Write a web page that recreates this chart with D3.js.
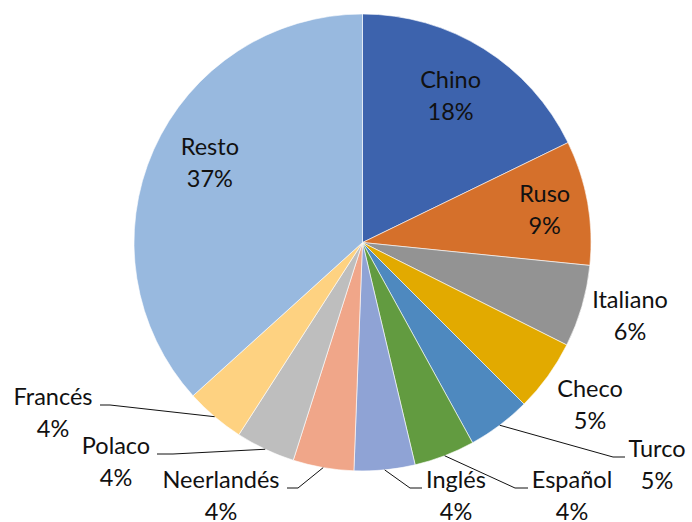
<!DOCTYPE html>
<html>
<head>
<meta charset="utf-8">
<script src="https://cdn.jsdelivr.net/npm/d3@7"></script>
<style>
  body { margin: 0; background: #fff; }
  svg text { font-family: Lato, "Open Sans", sans-serif; font-size: 23.5px; fill: #111; }
</style>
</head>
<body>
<svg width="692" height="522"></svg>
<script>
// Data (share in %)
var languages = ["Chino", "Ruso", "Italiano", "Checo", "Turco", "Español", "Inglés", "Neerlandés", "Polaco", "Francés", "Resto"];
var shares = [17.8, 8.8, 5.8, 5.1, 4.5, 4.3, 4.3, 4.3, 4.2, 4.2, 36.7];
var colors = ["#3D63AD", "#D5702B", "#939393", "#E2AA00", "#4E89BF", "#629B40", "#8FA3D5", "#F0A689", "#BEBEBE", "#FED281", "#98B9DF"];

// Label layout: inside labels sit on the slice mid-angle at r * radius (plus a nudge),
// outside labels get a centre and a leader elbow
var labelLayout = {
  "Chino": { r: 0.76, dx: -4, dy: 0 },
  "Ruso": { r: 0.81, dx: 0, dy: 0 },
  "Resto": { r: 0.75, dx: 4, dy: -10 },
  "Italiano": { x: 630, y: 300 },
  "Checo": { x: 590, y: 389 },
  "Turco": { x: 657, y: 449, elbow: [613, 625] },
  "Español": { x: 572, y: 480, elbow: [515, 528] },
  "Inglés": { x: 456, y: 480, elbow: [410, 422] },
  "Neerlandés": { x: 221, y: 480, elbow: [298, 287] },
  "Polaco": { x: 116, y: 446, elbow: [173, 157] },
  "Francés": { x: 53, y: 397, elbow: [110, 100] }
};

var svg = d3.select("svg");
var cx = 362.5, cy = 242.5, radius = 228.5;
var g = svg.append("g").attr("transform", `translate(${cx},${cy})`);

var data = languages.map((name, i) => ({ name: name, value: shares[i], color: colors[i] }));

var pie = d3.pie().sort(null).value((d) => d.value);
var arcs = pie(data);
var arc = d3.arc().innerRadius(0).outerRadius(radius);

g.selectAll("path.slice")
  .data(arcs)
  .join("path")
  .attr("class", "slice")
  .attr("d", arc)
  .attr("fill", (d) => d.data.color)
  .attr("stroke", "#fff")
  .attr("stroke-width", 0.6);

// Leader lines for small outside labels
arcs.forEach((d) => {
  var lay = labelLayout[d.data.name];
  if (!lay.elbow) return;
  var mid = (d.startAngle + d.endAngle) / 2;
  var px = cx + Math.sin(mid) * radius;
  var py = cy - Math.cos(mid) * radius;
  var ly = lay.y + 8;
  svg.append("polyline")
    .attr("points", `${px},${py} ${lay.elbow[0]},${ly} ${lay.elbow[1]},${ly}`)
    .attr("fill", "none")
    .attr("stroke", "#111")
    .attr("stroke-width", 1);
});

// Labels: name on the first line, rounded share on the second
arcs.forEach((d) => {
  var lay = labelLayout[d.data.name];
  var x, y;
  if (lay.r) {
    var c = d3.arc().innerRadius(radius * lay.r).outerRadius(radius * lay.r).centroid(d);
    x = cx + c[0] + lay.dx;
    y = cy + c[1] - 16 + lay.dy;
  } else {
    x = lay.x;
    y = lay.y;
  }
  var t = svg.append("text").attr("text-anchor", "middle");
  t.append("tspan").attr("x", x).attr("y", y).attr("dy", "0.35em").text(d.data.name);
  t.append("tspan").attr("x", x).attr("y", y + 32).attr("dy", "0.35em").text(Math.round(d.data.value) + "%");
});
</script>
</body>
</html>
